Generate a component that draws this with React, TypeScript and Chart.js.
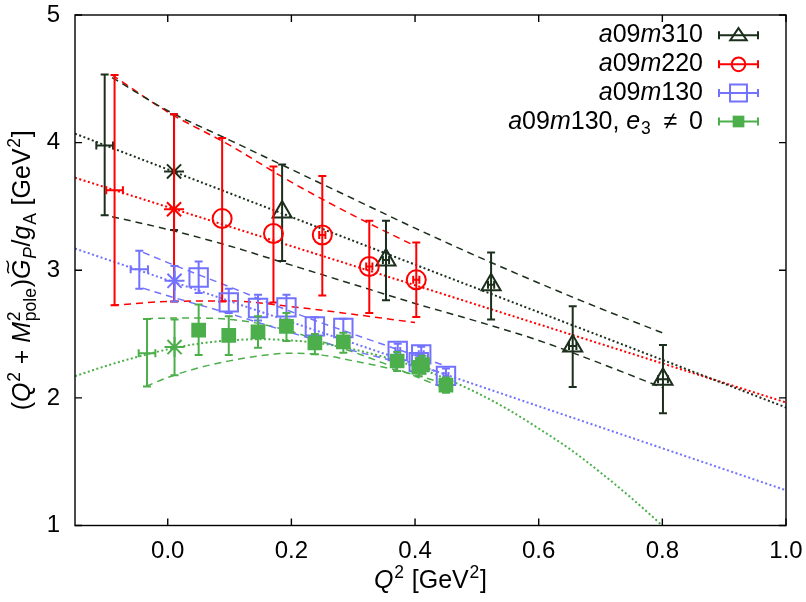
import React, { useEffect, useRef } from "react";
import { Chart, registerables } from "chart.js";

Chart.register(...registerables);

// ---------- colours ----------
const C310 = "#1c2f1c";
const C220 = "#ff0000";
const C130 = "#7272ff";
const CE3 = "#4caf4c";

// ---------- axes ----------
const xTickValues = [0.0, 0.2, 0.4, 0.6, 0.8, 1.0];
const yTickValues = [1, 2, 3, 4, 5];

// ---------- a09m310 ----------
const m310X = [-0.102, 0.0102, 0.185, 0.353, 0.523, 0.655, 0.801];
const m310Y = [3.977, 3.774, 3.457, 3.081, 2.886, 2.406, 2.146];
const m310Lo = [3.431, 3.315, 3.073, 2.764, 2.614, 2.086, 1.879];
const m310Hi = [4.534, 4.223, 3.829, 3.387, 3.14, 2.717, 2.414];
const m310XErr = [0.0135, 0, 0, 0.005, 0.005, 0.006, 0.008];
const m310Kind = ["pole", "star", "pt", "pt", "pt", "pt", "pt"];

// ---------- a09m220 ----------
const m220X = [-0.086, 0.0102, 0.088, 0.171, 0.25, 0.326, 0.402];
const m220Y = [3.626, 3.478, 3.405, 3.288, 3.276, 3.029, 2.925];
const m220Lo = [2.725, 2.756, 2.756, 2.748, 2.803, 2.665, 2.634];
const m220Hi = [4.53, 4.223, 4.036, 3.813, 3.738, 3.387, 3.218];
const m220XErr = [0.0135, 0, 0, 0, 0.005, 0.005, 0.005];
const m220Kind = ["pole", "star", "pt", "pt", "pt", "pt", "pt"];

// ---------- a09m130 ----------
const m130X = [-0.046, 0.011, 0.05, 0.0987, 0.146, 0.192, 0.238, 0.284, 0.372, 0.41, 0.406, 0.45];
const m130Y = [3.008, 2.917, 2.943, 2.748, 2.704, 2.709, 2.56, 2.548, 2.367, 2.341, 2.28, 2.172];
const m130Lo = [2.855, 2.756, 2.821, 2.665, 2.606, 2.614, 2.49, 2.48, 2.31, 2.28, 2.22, 2.12];
const m130Hi = [3.153, 3.034, 3.068, 2.855, 2.808, 2.808, 2.632, 2.62, 2.424, 2.4, 2.34, 2.23];
const m130XErr = [0.014, 0, 0, 0, 0, 0, 0, 0, 0.004, 0.004, 0.004, 0.004];
const m130Kind = ["pole", "star", "pt", "pt", "pt", "pt", "pt", "pt", "pt", "pt", "pt", "pt"];

// ---------- a09m130, e3 != 0 ----------
const e3X = [-0.0335, 0.011, 0.05, 0.0987, 0.146, 0.192, 0.238, 0.284, 0.371, 0.406, 0.412, 0.45];
const e3Y = [2.349, 2.398, 2.53, 2.489, 2.517, 2.561, 2.431, 2.439, 2.289, 2.24, 2.26, 2.1];
const e3Lo = [2.089, 2.178, 2.336, 2.336, 2.393, 2.445, 2.341, 2.354, 2.211, 2.17, 2.19, 2.04];
const e3Hi = [2.618, 2.614, 2.731, 2.639, 2.639, 2.665, 2.5, 2.51, 2.36, 2.31, 2.33, 2.16];
const e3XErr = [0.0135, 0, 0, 0, 0, 0, 0, 0, 0, 0, 0, 0];
const e3Kind = ["pole", "star", "pt", "pt", "pt", "pt", "pt", "pt", "pt", "pt", "pt", "pt"];

// ---------- fit curves (dotted) ----------
const fit310X = [-0.15, 1.0];
const fit310Y = [4.07, 1.925];
const fit220X = [-0.15, 1.0];
const fit220Y = [3.725, 1.964];
const fit130X = [-0.15, 1.0];
const fit130Y = [3.17, 1.276];
const fitE3X = [-0.15, -0.1, -0.05, 0.0, 0.05, 0.1, 0.15, 0.2, 0.25, 0.3, 0.35, 0.4, 0.45, 0.5, 0.55, 0.6, 0.65, 0.7, 0.75, 0.8];
const fitE3Y = [2.17, 2.25, 2.32, 2.38, 2.425, 2.45, 2.46, 2.45, 2.425, 2.38, 2.32, 2.245, 2.15, 2.04, 1.91, 1.76, 1.6, 1.415, 1.215, 1.0];

// ---------- error bands (dashed) ----------
const band310X = [-0.09, 0.0, 0.1, 0.2, 0.3, 0.4, 0.5, 0.6, 0.7, 0.8];
const band310Hi = [4.51, 4.25, 4.02, 3.79, 3.56, 3.33, 3.11, 2.9, 2.7, 2.51];
const band310Lo = [3.42, 3.32, 3.19, 3.04, 2.89, 2.74, 2.6, 2.45, 2.27, 2.08];
const band220X = [-0.09, 0.0, 0.1, 0.2, 0.3, 0.4];
const band220Hi = [4.53, 4.24, 3.98, 3.69, 3.43, 3.19];
const band220Lo = [2.725, 2.755, 2.76, 2.715, 2.655, 2.59];
const band130X = [-0.04, 0.0, 0.1, 0.2, 0.3, 0.45];
const band130Hi = [3.14, 3.06, 2.87, 2.675, 2.5, 2.25];
const band130Lo = [2.86, 2.8, 2.66, 2.51, 2.37, 2.19];
const bandE3X = [-0.035, 0.0, 0.05, 0.1, 0.15, 0.2, 0.25, 0.3, 0.35, 0.4, 0.45];
const bandE3Hi = [2.62, 2.625, 2.625, 2.615, 2.58, 2.52, 2.44, 2.36, 2.27, 2.17, 2.07];
const bandE3Lo = [2.09, 2.16, 2.235, 2.29, 2.33, 2.35, 2.335, 2.29, 2.24, 2.18, 2.11];

const FONT = "'Liberation Sans', Arial, sans-serif";
const TICK_SIZE = 24;
const TITLE_SIZE = 25;
const LEGEND_SIZE = 25;

type Run = { t?: string; it?: boolean; sup?: string; sub?: string; tilde?: boolean };

function runFont(size: number, it?: boolean) {
  return `${it ? "italic " : ""}${size}px ${FONT}`;
}

function measureRuns(ctx: CanvasRenderingContext2D, runs: Run[], size: number) {
  let w = 0;
  const small = size * 0.7;
  for (const r of runs) {
    if (r.t !== undefined) {
      ctx.font = runFont(size, r.it);
      w += ctx.measureText(r.t).width;
    } else {
      ctx.font = runFont(small, r.it);
      const a = r.sup ? ctx.measureText(r.sup).width : 0;
      const b = r.sub ? ctx.measureText(r.sub).width : 0;
      w += Math.max(a, b) + 1.5;
    }
  }
  return w;
}

function drawRuns(ctx: CanvasRenderingContext2D, runs: Run[], x: number, y: number, size: number, align: "left" | "right" | "center") {
  const w = measureRuns(ctx, runs, size);
  let cx = align === "left" ? x : align === "right" ? x - w : x - w / 2;
  const small = size * 0.7;
  ctx.textAlign = "left";
  ctx.textBaseline = "alphabetic";
  for (const r of runs) {
    if (r.t !== undefined) {
      ctx.font = runFont(size, r.it);
      ctx.fillText(r.t, cx, y);
      const tw = ctx.measureText(r.t).width;
      if (r.tilde) {
        ctx.save();
        ctx.lineWidth = 1.4;
        ctx.beginPath();
        const tx = cx + tw * 0.62;
        const ty = y - size * 0.9;
        const hw = tw * 0.32;
        ctx.moveTo(tx - hw, ty + 1.5);
        ctx.bezierCurveTo(tx - hw * 0.4, ty - 3, tx + hw * 0.2, ty + 4.5, tx + hw, ty - 1);
        ctx.stroke();
        ctx.restore();
      }
      cx += tw;
    } else {
      ctx.font = runFont(small, r.it);
      const a = r.sup ? ctx.measureText(r.sup).width : 0;
      const b = r.sub ? ctx.measureText(r.sub).width : 0;
      if (r.sup) ctx.fillText(r.sup, cx + 0.75, y - size * 0.42);
      if (r.sub) ctx.fillText(r.sub, cx + 0.75, y + size * 0.22);
      cx += Math.max(a, b) + 1.5;
    }
  }
}

type Series = {
  label: Run[];
  color: string;
  x: number[];
  y: number[];
  lo: number[];
  hi: number[];
  xe: number[];
  kind: string[];
  style: string;
  radius: number;
  filled: boolean;
};

const SERIES: Series[] = [
  { label: [{ t: "a", it: true }, { t: "09" }, { t: "m", it: true }, { t: "310" }], color: C310, x: m310X, y: m310Y, lo: m310Lo, hi: m310Hi, xe: m310XErr, kind: m310Kind, style: "triangle", radius: 11, filled: false },
  { label: [{ t: "a", it: true }, { t: "09" }, { t: "m", it: true }, { t: "220" }], color: C220, x: m220X, y: m220Y, lo: m220Lo, hi: m220Hi, xe: m220XErr, kind: m220Kind, style: "circle", radius: 9.5, filled: false },
  { label: [{ t: "a", it: true }, { t: "09" }, { t: "m", it: true }, { t: "130" }], color: C130, x: m130X, y: m130Y, lo: m130Lo, hi: m130Hi, xe: m130XErr, kind: m130Kind, style: "rect", radius: 13, filled: false },
  { label: [{ t: "a", it: true }, { t: "09" }, { t: "m", it: true }, { t: "130, " }, { t: "e", it: true }, { sub: "3" }, { t: " \u2009\u2260\u2009 0" }], color: CE3, x: e3X, y: e3Y, lo: e3Lo, hi: e3Hi, xe: e3XErr, kind: e3Kind, style: "rect", radius: 9, filled: true },
];

function toPts(xs: number[], ys: number[]) {
  return xs.map((x, i) => ({ x, y: ys[i] }));
}

function lineDs(xs: number[], ys: number[], color: string, dotted: boolean) {
  return {
    type: "line" as const,
    data: toPts(xs, ys),
    borderColor: color,
    borderWidth: dotted ? 2 : 1.5,
    borderDash: dotted ? [2, 2.5] : [7, 5],
    pointRadius: 0,
    showLine: true,
    fill: false,
    tension: 0.35,
    cubicInterpolationMode: "monotone" as const,
    order: 5,
  };
}

function drawErr(ctx: CanvasRenderingContext2D, chart: any, s: Series) {
  const xs = chart.scales.x;
  const ys = chart.scales.y;
  ctx.save();
  ctx.strokeStyle = s.color;
  ctx.lineWidth = 2;
  const cap = 4;
  for (let i = 0; i < s.x.length; i++) {
    const px = xs.getPixelForValue(s.x[i]);
    const pLo = ys.getPixelForValue(s.lo[i]);
    const pHi = ys.getPixelForValue(s.hi[i]);
    const py = ys.getPixelForValue(s.y[i]);
    ctx.beginPath();
    ctx.moveTo(px, pLo);
    ctx.lineTo(px, pHi);
    ctx.moveTo(px - cap, pLo);
    ctx.lineTo(px + cap, pLo);
    ctx.moveTo(px - cap, pHi);
    ctx.lineTo(px + cap, pHi);
    if (s.xe[i] > 0) {
      const l = xs.getPixelForValue(s.x[i] - s.xe[i]);
      const r = xs.getPixelForValue(s.x[i] + s.xe[i]);
      ctx.moveTo(l, py);
      ctx.lineTo(r, py);
      ctx.moveTo(l, py - cap);
      ctx.lineTo(l, py + cap);
      ctx.moveTo(r, py - cap);
      ctx.lineTo(r, py + cap);
    }
    ctx.stroke();
  }
  ctx.restore();
}

function drawMarker(ctx: CanvasRenderingContext2D, s: Series, x: number, y: number) {
  ctx.save();
  ctx.strokeStyle = s.color;
  ctx.fillStyle = s.color;
  ctx.lineWidth = 2;
  const r = s.radius;
  ctx.beginPath();
  if (s.style === "triangle") {
    const w = r * 0.75;
    ctx.moveTo(x, y - r * 0.65);
    ctx.lineTo(x + w, y + r * 0.45);
    ctx.lineTo(x - w, y + r * 0.45);
    ctx.closePath();
  } else if (s.style === "circle") {
    ctx.arc(x, y, r * 0.72, 0, Math.PI * 2);
  } else {
    const h = r * 0.65;
    ctx.rect(x - h, y - h, 2 * h, 2 * h);
  }
  if (s.filled) ctx.fill();
  else ctx.stroke();
  ctx.restore();
}

const overlay = {
  id: "overlay",
  beforeDatasetDraw(chart: any, args: any) {
    const ds = chart.data.datasets[args.index];
    if (ds.seriesIndex !== undefined) drawErr(chart.ctx, chart, SERIES[ds.seriesIndex]);
  },
  afterDraw(chart: any) {
    const ctx: CanvasRenderingContext2D = chart.ctx;
    const a = chart.chartArea;
    const xs = chart.scales.x;
    const ys = chart.scales.y;
    ctx.save();
    // frame + inward ticks
    ctx.strokeStyle = "#000";
    ctx.lineWidth = 1.4;
    ctx.strokeRect(a.left, a.top, a.right - a.left, a.bottom - a.top);
    ctx.beginPath();
    const tl = 7;
    for (const v of xTickValues) {
      const p = xs.getPixelForValue(v);
      ctx.moveTo(p, a.bottom);
      ctx.lineTo(p, a.bottom - tl);
      ctx.moveTo(p, a.top);
      ctx.lineTo(p, a.top + tl);
    }
    for (const v of yTickValues) {
      const p = ys.getPixelForValue(v);
      ctx.moveTo(a.left, p);
      ctx.lineTo(a.left + tl, p);
      ctx.moveTo(a.right, p);
      ctx.lineTo(a.right - tl, p);
    }
    ctx.stroke();

    // legend
    const legY = [35.3, 64.3, 93, 121.5];
    SERIES.forEach((s, i) => {
      const y = legY[i];
      ctx.fillStyle = "#000";
      drawRuns(ctx, s.label, 703, y + 7, LEGEND_SIZE, "right");
      ctx.strokeStyle = s.color;
      ctx.lineWidth = 2;
      ctx.beginPath();
      ctx.moveTo(719, y);
      ctx.lineTo(758, y);
      ctx.moveTo(719, y - 4);
      ctx.lineTo(719, y + 4);
      ctx.moveTo(758, y - 4);
      ctx.lineTo(758, y + 4);
      ctx.stroke();
      drawMarker(ctx, s, 738.5, y);
    });

    // axis titles
    ctx.fillStyle = "#000";
    ctx.strokeStyle = "#000";
    drawRuns(ctx, [{ t: "Q", it: true }, { sup: "2" }, { t: " [GeV" }, { sup: "2" }, { t: "]" }], (a.left + a.right) / 2, 588, TITLE_SIZE, "center");
    ctx.save();
    ctx.translate(30, (a.top + a.bottom) / 2);
    ctx.rotate(-Math.PI / 2);
    drawRuns(
      ctx,
      [
        { t: "(" },
        { t: "Q", it: true },
        { sup: "2" },
        { t: " + " },
        { t: "M", it: true },
        { sup: "2", sub: "pole" },
        { t: ")" },
        { t: "G", it: true, tilde: true },
        { sub: "P", it: true },
        { t: "/" },
        { t: "g", it: true },
        { sub: "A" },
        { t: " [GeV" },
        { sup: "2" },
        { t: "]" },
      ],
      0,
      0,
      TITLE_SIZE,
      "center"
    );
    ctx.restore();
    ctx.restore();
  },
};

export default function App() {
  const ref = useRef<HTMLCanvasElement | null>(null);
  useEffect(() => {
    document.body.style.margin = "0";
    const canvas = ref.current;
    if (!canvas) return;

    const lines = [
      lineDs(fit310X, fit310Y, C310, true),
      lineDs(fit220X, fit220Y, C220, true),
      lineDs(fit130X, fit130Y, C130, true),
      lineDs(fitE3X, fitE3Y, CE3, true),
      lineDs(band310X, band310Hi, C310, false),
      lineDs(band310X, band310Lo, C310, false),
      lineDs(band220X, band220Hi, C220, false),
      lineDs(band220X, band220Lo, C220, false),
      lineDs(band130X, band130Hi, C130, false),
      lineDs(band130X, band130Lo, C130, false),
      lineDs(bandE3X, bandE3Hi, CE3, false),
      lineDs(bandE3X, bandE3Lo, CE3, false),
    ];

    const pointSets = SERIES.map((s, si) => ({
      type: "scatter" as const,
      data: toPts(s.x, s.y),
      seriesIndex: si,
      order: 4 - si,
      showLine: false,
      borderColor: s.color,
      backgroundColor: s.filled ? s.color : "rgba(0,0,0,0)",
      borderWidth: 2,
      pointStyle: s.kind.map((k) => (k === "star" ? "star" : s.style)),
      pointRadius: s.kind.map((k) => (k === "pole" ? 0 : k === "star" ? 10 : s.radius)),
      pointBackgroundColor: s.kind.map((k) => (s.filled && k === "pt" ? s.color : "rgba(0,0,0,0)")),
      pointHoverRadius: 0,
    }));

    const chart = new Chart(canvas, {
      type: "scatter",
      data: { datasets: [...lines, ...pointSets] as any },
      options: {
        animation: false,
        responsive: false,
        maintainAspectRatio: false,
        layout: { padding: { top: 12, right: 20, left: 0, bottom: 0 } },
        plugins: { legend: { display: false }, tooltip: { enabled: false } },
        events: [],
        scales: {
          x: {
            type: "linear",
            min: -0.15,
            max: 1.0,
            afterBuildTicks: (s: any) => {
              s.ticks = xTickValues.map((v) => ({ value: v }));
            },
            afterFit: (s: any) => {
              s.height = 76.5;
              s.paddingLeft = 0;
              s.paddingRight = 0;
            },
            grid: { display: false, drawTicks: false },
            border: { display: false },
            ticks: {
              color: "#000",
              font: { family: FONT, size: TICK_SIZE },
              padding: 11,
              maxRotation: 0,
              autoSkip: false,
              callback: (v: any) => Number(v).toFixed(1),
            },
          },
          y: {
            type: "linear",
            min: 1,
            max: 5,
            afterBuildTicks: (s: any) => {
              s.ticks = yTickValues.map((v) => ({ value: v }));
            },
            afterFit: (s: any) => {
              s.width = 75;
              s.paddingTop = 0;
              s.paddingBottom = 0;
            },
            grid: { display: false, drawTicks: false },
            border: { display: false },
            ticks: {
              color: "#000",
              font: { family: FONT, size: TICK_SIZE },
              padding: 15,
              autoSkip: false,
              callback: (v: any) => String(v),
            },
          },
        },
      },
      plugins: [overlay],
    });
    return () => chart.destroy();
  }, []);
  return (
    <div style={{ width: 806, height: 602 }}>
      <canvas ref={ref} width={806} height={602} style={{ display: "block" }} />
    </div>
  );
}
